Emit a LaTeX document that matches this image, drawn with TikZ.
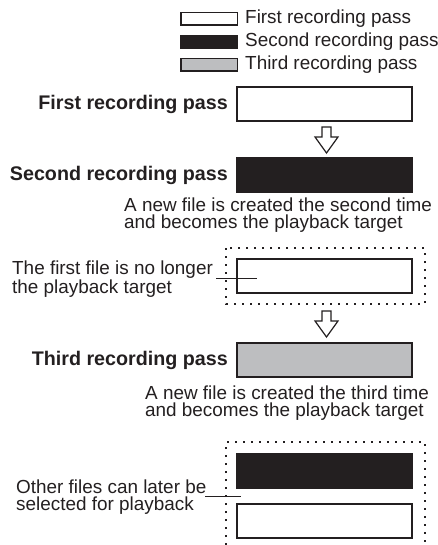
\documentclass[tikz,border=0pt]{standalone}
\usepackage{fontspec}
\setmainfont{Liberation Sans}
\definecolor{ink}{HTML}{231F20}
\definecolor{shade}{HTML}{BDBEC0}
\newcommand{\regfont}{\fontsize{18.9}{17.5}\selectfont}
\newcommand{\passfont}{\fontsize{19.7}{17.5}\selectfont\bfseries}
\tikzset{
	filebox/.style = {draw = ink, line width = 2pt, minimum width = 175pt, minimum height = 34pt, inner sep = 0pt},
	keybox/.style = {draw = ink, line width = 1.5pt, minimum width = 56.5pt, minimum height = 12.5pt, inner sep = 0pt},
	keytext/.style = {anchor = west, inner sep = 0pt, text = ink, font = \regfont},
	passlabel/.style = {anchor = east, inner sep = 0pt, text = ink, font = \passfont},
	note/.style = {anchor = west, align = left, inner sep = 0pt, text = ink, font = \regfont},
	frame/.style = {ink, line width = 2pt, dash pattern = on 2pt off 6pt},
	leader/.style = {ink, line width = 0.9pt},
	passarrow/.pic = {\draw[ink, line width = 1.2pt, fill = white] (-4.5,0) -- (4.5,0) -- (4.5,10) -- (11.5,10) -- (0,26) -- (-11.5,10) -- (-4.5,10) -- cycle;}
}
\begin{document}
\begin{tikzpicture} [x = 1pt, y = -1pt]
	\useasboundingbox (0,0) rectangle (438,545);
	\node[keybox, fill = white] (keyfirst) at (209,19) {};
	\node[keybox, fill = ink] (keysecond) at (209,42) {};
	\node[keybox, fill = shade] (keythird) at (209,65) {};
	\node[keytext] (keyfirsttext) at (245,19) {First recording pass};
	\node[keytext] (keysecondtext) at (245,42) {Second recording pass};
	\node[keytext] (keythirdtext) at (245,65) {Third recording pass};
	\node[filebox, fill = white] (first) at (324.5,104.5) {};
	\node[passlabel] (firstlabel) at (228,104.5) {First recording pass};
	\pic at (326.5,127) {passarrow};
	\node[filebox, fill = ink] (second) at (324.5,175) {};
	\node[passlabel] (secondlabel) at (228,175) {Second recording pass};
	\node[note] (secondnote) at (124,215) {A new file is created the second time\\and becomes the playback target};
	\draw[frame] (226,248) rectangle (425,304);
	\node[filebox, fill = white] (oldfirst) at (324.5,276) {};
	\node[note] (oldnote) at (12,279) {The first file is no longer\\the playback target};
	\coordinate (oldtickA) at (216,278);
	\coordinate (oldtickB) at (257,278);
	\draw[leader] (oldtickA) -- (oldtickB);
	\pic at (326.5,311) {passarrow};
	\node[filebox, fill = shade] (third) at (324.5,360) {};
	\node[passlabel] (thirdlabel) at (228,360) {Third recording pass};
	\node[note] (thirdnote) at (145,403) {A new file is created the third time\\and becomes the playback target};
	\draw[frame] (226,545) -- (226,442) -- (425,442) -- (425,545);
	\node[filebox, fill = ink] (latersecond) at (324.5,471) {};
	\node[filebox, fill = white] (laterfirst) at (324.5,520.5) {};
	\node[note] (othernote) at (16,497) {Other files can later be\\selected for playback};
	\coordinate (othertickA) at (205,496);
	\coordinate (othertickB) at (241,496);
	\draw[leader] (othertickA) -- (othertickB);
\end{tikzpicture}
\end{document}
